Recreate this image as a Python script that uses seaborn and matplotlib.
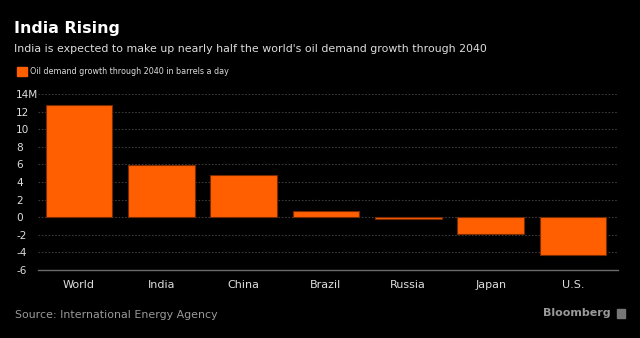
import matplotlib
matplotlib.use("Agg")
import matplotlib.pyplot as plt
import matplotlib.patches as mpatches
import seaborn as sns
import pandas as pd

countries = ["World", "India", "China", "Brazil", "Russia", "Japan", "U.S."]
growth = [12.8, 5.95, 4.8, 0.72, -0.15, -1.85, -4.25]
yticks = [-6, -4, -2, 0, 2, 4, 6, 8, 10, 12, 14]
ytick_labels = ["-6", "-4", "-2", "0", "2", "4", "6", "8", "10", "12", "14M"]

title = "India Rising"
subtitle = "India is expected to make up nearly half the world's oil demand growth through 2040"
legend_label = "Oil demand growth through 2040 in barrels a day"
source = "Source: International Energy Agency"

sns.set_style("dark")
plt.rcParams['font.family'] = ['DejaVu Sans']

df = pd.DataFrame({"country": countries, "growth": growth})

fig = plt.figure(figsize=(6.4, 3.38), dpi=100, facecolor="black")
ax = fig.add_axes([0.059, 0.201, 0.907, 0.521])
ax.set_facecolor("black")

orange = "#ff5f00"
sns.barplot(data=df, x="country", y="growth", color=orange, saturation=1,
            width=0.81, edgecolor="#7a2a00", linewidth=0.8, ax=ax)

ax.set_ylim(-6, 14)
ax.set_xlim(-0.5, 6.55)
ax.set_yticks(yticks)
ax.set_yticklabels(ytick_labels)
ax.set_xlabel("")
ax.set_ylabel("")
ax.grid(axis="y", color="#3a3a3a", linestyle=(0, (1.5, 1.5)), linewidth=0.8)
ax.grid(axis="x", visible=False)
ax.set_axisbelow(True)
for s in ["top", "right", "left"]:
    ax.spines[s].set_visible(False)
ax.spines["bottom"].set_visible(True)
ax.spines["bottom"].set_color("#6a6a6a")
ax.spines["bottom"].set_linewidth(1)
ax.tick_params(axis="y", colors="#dddddd", labelsize=7.6, length=0, pad=15.5)
ax.tick_params(axis="x", colors="#dddddd", labelsize=8, length=3, width=0.8,
               direction="out", pad=4)
for t in ax.get_xticklines():
    t.set_color("#6a6a6a")
for lbl in ax.get_yticklabels():
    lbl.set_color("#dddddd")
    lbl.set_horizontalalignment("left")
for lbl in ax.get_xticklabels():
    lbl.set_color("#dddddd")

fig.text(0.022, 0.917, title, color="white", fontsize=11.4, fontweight="bold",
         va="center", ha="left")
fig.text(0.022, 0.855, subtitle, color="#dddddd", fontsize=7.95,
         va="center", ha="left")
# legend swatch + label
fig.patches.append(mpatches.Rectangle((17 / 640, 1 - 76 / 338), 10 / 640, 9 / 338,
                                      transform=fig.transFigure, color=orange,
                                      figure=fig))
fig.text(30 / 640, 1 - 71.5 / 338, legend_label, color="#dddddd", fontsize=5.8,
         va="center", ha="left")
fig.text(0.023, 0.068, source, color="#999999", fontsize=7.9, va="center", ha="left")
fig.text(611 / 640, 1 - 313 / 338, "Bloomberg", color="#999999", fontsize=8,
         fontweight="bold", va="center", ha="right")
fig.patches.append(mpatches.Rectangle((617 / 640, 1 - 318 / 338), 8 / 640, 9 / 338,
                                      transform=fig.transFigure, color="#777777",
                                      figure=fig))

fig.savefig("out.png", dpi=100, facecolor="black")
